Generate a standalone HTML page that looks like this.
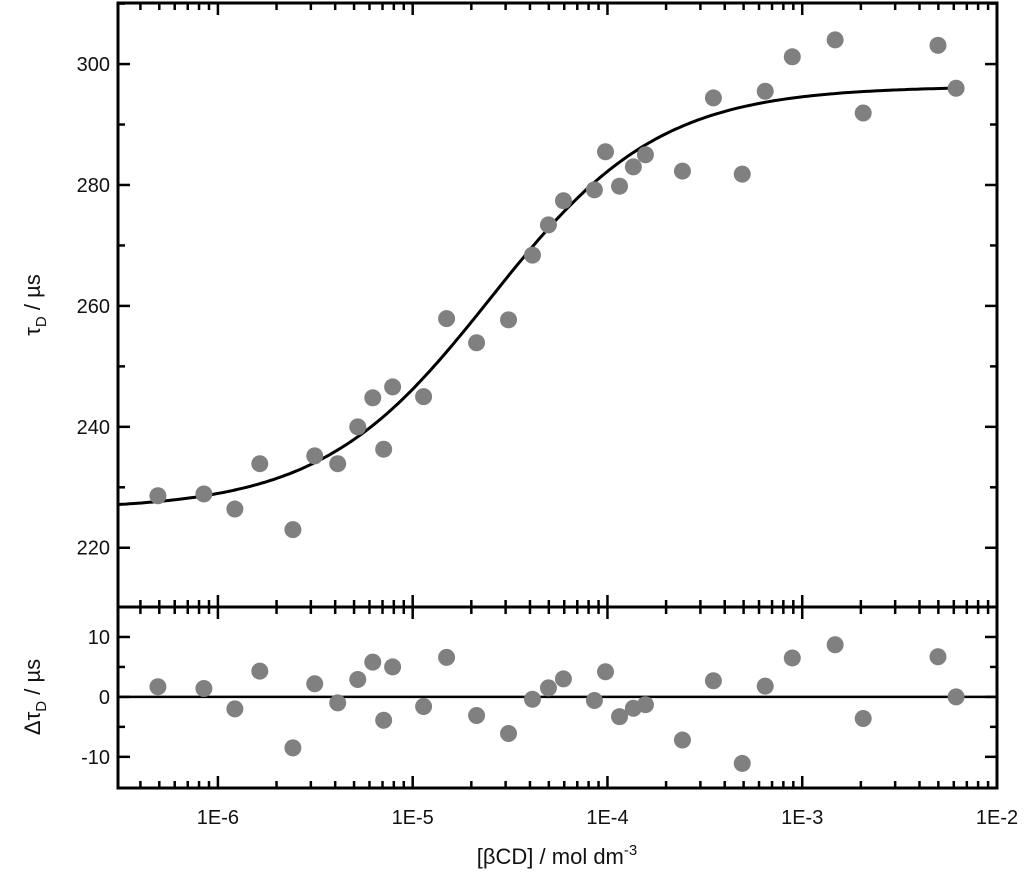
<!DOCTYPE html>
<html><head><meta charset="utf-8"><style>
body{margin:0;background:#fff;}
svg text{font-family:"Liberation Sans",sans-serif;fill:#111;}
</style></head><body>
<svg id="chart" width="1024" height="891" viewBox="0 0 1024 891"></svg>
<script>
// data: log10 concentration, tau_D (µs), residuals (µs)
const logConc = [-6.308,-6.072,-5.913,-5.785,-5.615,-5.503,-5.385,-5.282,-5.205,-5.149,-5.103,-4.944,-4.826,-4.672,-4.508,-4.385,-4.303,-4.226,-4.067,-4.010,-3.938,-3.867,-3.805,-3.615,-3.456,-3.308,-3.190,-3.051,-2.831,-2.687,-2.303,-2.210];
const tauD = [228.6,228.9,226.4,233.9,223.0,235.2,233.9,240.0,244.8,236.3,246.6,245.0,257.9,253.9,257.7,268.4,273.4,277.4,279.2,285.5,279.8,283.0,285.0,282.3,294.4,281.8,295.5,301.2,304.0,291.9,303.1,296.0];
const resid = [1.7,1.4,-2,4.3,-8.5,2.2,-1,2.9,5.8,-3.9,5,-1.6,6.6,-3.1,-6.1,-0.4,1.5,3,-0.6,4.2,-3.3,-1.9,-1.3,-7.2,2.7,-11.1,1.8,6.5,8.7,-3.6,6.7,0];
const fitParams = [226.3, 296.3, -4.6]; // tau0, tauInf, log K
const xTickLabels = ["1E-6","1E-5","1E-4","1E-3","1E-2"];
const yTicksTop = [220,240,260,280,300];
const yTicksBot = [-10,0,10];

const NS="http://www.w3.org/2000/svg";
const svg=document.getElementById('chart');
const L=118,R=997,T=3,M=607,B=788;
const xMin=-6.513,xMax=-2.0;
const X=v=>L+(v-xMin)/(xMax-xMin)*(R-L);
const YT=v=>M-(v-210.2)/(310.1-210.2)*(M-T);
const YB=v=>B-(v+15.2)/(15+15.2)*(B-M);
function mk(tag,attrs,parent){const e=document.createElementNS(NS,tag);for(const k in attrs)e.setAttribute(k,attrs[k]);(parent||svg).appendChild(e);return e;}
function line(x1,y1,x2,y2,w,name){const e=mk('line',{x1,y1,x2,y2,stroke:'#000','stroke-width':w});


return e;}
function txt(x,y,s,anchor,size,name){const e=mk('text',{x,y,'text-anchor':anchor,'font-size':size});e.textContent=s;


return e;}

// x ticks
for(let d=-7;d<=-2;d++){for(let m=1;m<10;m++){const lv=d+Math.log10(m);if(lv<xMin||lv>xMax+1e-9)continue;const x=X(lv);const len=m===1?12:7;
line(x,T,x,T+len,2.5,'x-tick');line(x,M-len,x,M+len,2.5,'x-tick');line(x,B,x,B-len,2.5,'x-tick');}}
xTickLabels.forEach((s,i)=>{txt(X(-6+i),824,s,'middle',20,'x-tick-label');});
// y ticks top
for(let v=220;v<=310;v+=10){const y=YT(v);const len=(v%20===0)?12:7;line(L,y,L+len,y,2.5,'y-tick');line(R,y,R-len,y,2.5,'y-tick');}
yTicksTop.forEach(v=>txt(L-8,YT(v)+7,String(v),'end',20,'y-tick-label'));
for(let v=-15;v<=15;v+=5){const y=YB(v);if(y<M+2||y>B-2)continue;const len=(v%10===0)?12:7;line(L,y,L+len,y,2.5,'resid-y-tick');line(R,y,R-len,y,2.5,'resid-y-tick');}
yTicksBot.forEach(v=>txt(L-8,YB(v)+7,String(v),'end',20,'resid-y-tick-label'));

// zero line
line(L,YB(0),R,YB(0),2.5,'zero-line');

// fit curve
let d='';for(let lv=xMin;lv<=-2.2;lv+=0.02){const f=Math.pow(10,lv-fitParams[2]);const v=fitParams[0]+(fitParams[1]-fitParams[0])*f/(1+f);d+=(d?'L':'M')+X(lv).toFixed(1)+','+YT(v).toFixed(1);}
const fc=mk('path',{d,fill:'none',stroke:'#000','stroke-width':3});



logConc.forEach((lv,i)=>{
const c=mk('circle',{cx:X(lv),cy:YT(tauD[i]),r:8.5,fill:'#808080'});


const r=mk('circle',{cx:X(lv),cy:YB(resid[i]),r:8.5,fill:'#808080'});


});

// frame
const fr=mk('rect',{x:L,y:T,width:R-L,height:B-T,fill:'none',stroke:'#000','stroke-width':3});


line(L,M,R,M,3,'panel-divider');

// axis titles
const yt=mk('text',{x:0,y:0,'text-anchor':'middle','font-size':22,transform:'translate(40,305) rotate(-90)'});
yt.innerHTML='τ<tspan font-size="15" dy="6">D</tspan><tspan dy="-6"> / µs</tspan>';


const yb=mk('text',{x:0,y:0,'text-anchor':'middle','font-size':22,transform:'translate(40,697) rotate(-90)'});
yb.innerHTML='Δτ<tspan font-size="15" dy="6">D</tspan><tspan dy="-6"> / µs</tspan>';


const xt=mk('text',{x:557,y:864,'text-anchor':'middle','font-size':22});
xt.innerHTML='[βCD] / mol dm<tspan font-size="15" dy="-9">-3</tspan>';


</script>
</body></html>
